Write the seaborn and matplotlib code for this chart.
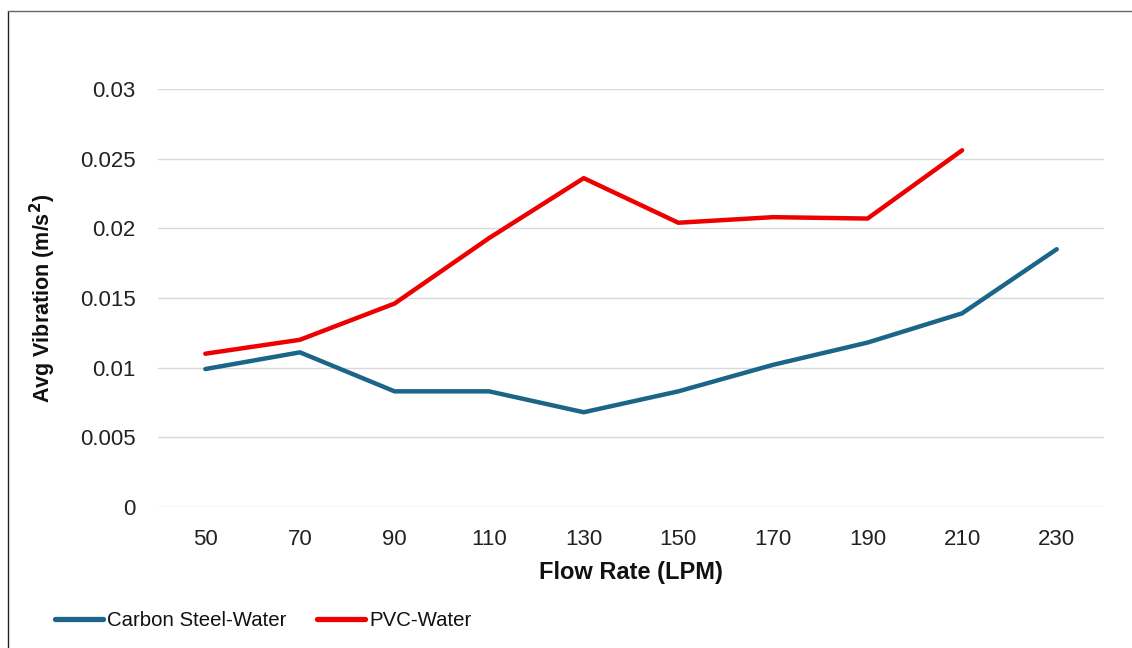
import matplotlib
matplotlib.use("Agg")
import matplotlib.pyplot as plt
import seaborn as sns
import pandas as pd
from matplotlib.lines import Line2D

flow_rates = [50, 70, 90, 110, 130, 150, 170, 190, 210, 230]
carbon_steel = [0.0099, 0.0111, 0.0083, 0.0083, 0.0068, 0.0083, 0.0102, 0.0118, 0.0139, 0.0185]
pvc = [0.0110, 0.0120, 0.0146, 0.0193, 0.0236, 0.0204, 0.0208, 0.0207, 0.0256, None]
series_names = ["Carbon Steel-Water", "PVC-Water"]
colors = ["#1B6589", "#EE0000"]
y_ticks = [0, 0.005, 0.01, 0.015, 0.02, 0.025, 0.03]
y_tick_labels = ["0", "0.005", "0.01", "0.015", "0.02", "0.025", "0.03"]

sns.set_theme(style="white")
plt.rcParams['font.family'] = ['Liberation Sans', 'DejaVu Sans']

rows = []
for i, fr in enumerate(flow_rates):
    rows.append({"idx": i, "val": carbon_steel[i], "series": series_names[0]})
    if pvc[i] is not None:
        rows.append({"idx": i, "val": pvc[i], "series": series_names[1]})
df = pd.DataFrame(rows)

fig = plt.figure(figsize=(11.32, 6.48), dpi=100)
ax = fig.add_axes([0.1396, 0.2176, 0.8357, 0.6451])

sns.lineplot(data=df, x="idx", y="val", hue="series", palette=colors,
             hue_order=series_names, linewidth=3.2, ax=ax, legend=False,
             solid_joinstyle="round", solid_capstyle="round")

ax.set_xlim(-0.5, len(flow_rates) - 0.5)
ax.set_ylim(0, 0.03)
ax.set_xticks(range(len(flow_rates)))
ax.set_xticklabels([str(f) for f in flow_rates], fontsize=16, color="#222222")
ax.set_yticks(y_ticks)
ax.set_yticklabels(y_tick_labels, fontsize=16, color="#222222")
ax.tick_params(axis="both", length=0)
ax.tick_params(axis="x", pad=16)
ax.tick_params(axis="y", pad=16)
for y in y_ticks:
    ax.axhline(y, color="#D9D9D9", linewidth=1.0, zorder=0)
for s in ax.spines.values():
    s.set_visible(False)

ax.set_xlabel("Flow Rate (LPM)", fontsize=17, fontweight="bold", labelpad=8, color="#111111")
ax.set_ylabel("Avg Vibration (m/s$^\\mathbf{2}$)", fontsize=15.5, fontweight="bold",
              labelpad=16, color="#111111")

handles = [Line2D([0], [0], color=c, linewidth=3.8, solid_capstyle="round") for c in colors]
fig.legend(handles, series_names, loc="center left", bbox_to_anchor=(55/1132, 1 - 621/648),
           ncol=2, frameon=False, fontsize=14.7, handlelength=2.35, handletextpad=0.2,
           columnspacing=1.5, borderpad=0, borderaxespad=0, labelcolor="#111111")

# outer chart border (left and top edges)
fig.add_artist(Line2D([8/1132, 8/1132], [0, 1 - 11/648], transform=fig.transFigure,
                      color="#222222", linewidth=1.0))
fig.add_artist(Line2D([8/1132, 1], [1 - 11/648, 1 - 11/648], transform=fig.transFigure,
                      color="#666666", linewidth=1.0))

fig.savefig("out.png", dpi=100)
